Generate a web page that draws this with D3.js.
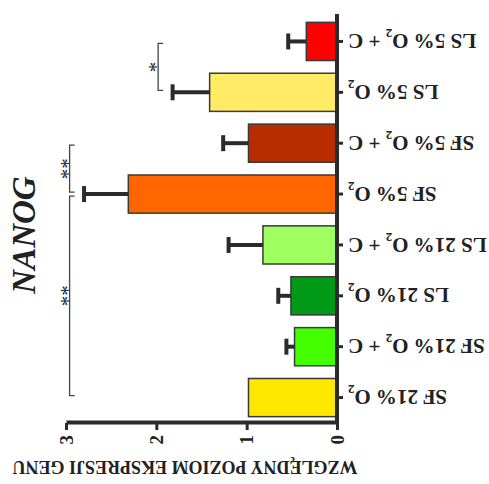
<!DOCTYPE html>
<html>
<head>
<meta charset="utf-8">
<script src="https://cdn.jsdelivr.net/npm/d3@7"></script>
<style>
  body { margin: 0; background: #fff; }
  text { font-family: "Liberation Serif", "Times New Roman", serif; }
</style>
</head>
<body>
<div id="chart"></div>
<script>
// chart data
var categories = ["SF 21% O2", "SF 21% O2 + C", "LS 21% O2", "LS 21% O2 + C",
                  "SF 5% O2", "SF 5% O2 + C", "LS 5% O2", "LS 5% O2 + C"];
var values = [0.98, 0.47, 0.51, 0.82, 2.31, 0.98, 1.41, 0.34];
var errors = [0, 0.09, 0.14, 0.38, 0.49, 0.28, 0.41, 0.20];
var colors = ["#ffe800", "#44ff00", "#009a17", "#a0ff60",
              "#ff6600", "#b82c00", "#ffeb66", "#ff0000"];
var valueTicks = [0, 1, 2, 3];
var significance = [
    { a: "SF 5% O2 + C", b: "SF 5% O2", label: "**" },
    { a: "SF 21% O2", b: "SF 5% O2", label: "**" },
    { a: "LS 5% O2", b: "LS 5% O2 + C", label: "*" }
];
var title = "NANOG";
var axisTitle = "WZGLĘDNY POZIOM EKSPRESJI GENU";

var width = 489, height = 484;
var axisColor = "#2b2b2b";

var svg = d3.select("#chart")
    .append("svg")
    .attr("width", width)
    .attr("height", height);

// the figure is a vertical bar chart turned 90 degrees counter-clockwise
var g = svg.append("g")
    .attr("transform", "translate(0," + height + ") rotate(-90)");

var x = d3.scaleBand()
    .domain(categories)
    .range([61, 468])
    .paddingInner(0.25)
    .paddingOuter(0.125);

var y = d3.scaleLinear()
    .domain([0, 3])
    .range([337, 66]);

// bars
g.selectAll("rect.bar")
    .data(categories)
    .enter()
    .append("rect")
    .attr("class", "bar")
    .attr("x", function (d) { return x(d); })
    .attr("y", function (d, i) { return y(values[i]); })
    .attr("width", x.bandwidth())
    .attr("height", function (d, i) { return y(0) - y(values[i]); })
    .attr("fill", function (d, i) { return colors[i]; })
    .attr("stroke", "#3a3a3a")
    .attr("stroke-width", 1.5);

// error bars (upper side only)
var err = g.selectAll("g.err")
    .data(categories.filter(function (d, i) { return errors[i] > 0; }))
    .enter()
    .append("g")
    .attr("class", "err");

err.append("line")
    .attr("x1", function (d) { return x(d) + x.bandwidth() / 2; })
    .attr("x2", function (d) { return x(d) + x.bandwidth() / 2; })
    .attr("y1", function (d) { return y(values[categories.indexOf(d)]); })
    .attr("y2", function (d) { var i = categories.indexOf(d); return y(values[i] + errors[i]); })
    .attr("stroke", axisColor)
    .attr("stroke-width", 4);

err.append("line")
    .attr("x1", function (d) { return x(d) + x.bandwidth() / 2 - 8; })
    .attr("x2", function (d) { return x(d) + x.bandwidth() / 2 + 8; })
    .attr("y1", function (d) { var i = categories.indexOf(d); return y(values[i] + errors[i]); })
    .attr("y2", function (d) { var i = categories.indexOf(d); return y(values[i] + errors[i]); })
    .attr("stroke", axisColor)
    .attr("stroke-width", 4);

// value axis
var yAxis = g.append("g")
    .attr("transform", "translate(61,0)")
    .call(d3.axisLeft(y).tickValues(valueTicks).tickSize(7).tickSizeOuter(0).tickFormat(d3.format("d")));

yAxis.select(".domain").attr("stroke", axisColor).attr("stroke-width", 4);
yAxis.selectAll(".tick line").attr("stroke", axisColor).attr("stroke-width", 3);
yAxis.selectAll(".tick text")
    .attr("x", -12)
    .attr("fill", "#222")
    .style("font-size", "19px")
    .style("font-weight", "bold")
    .style("font-family", "Liberation Serif, serif");

// category axis
var xAxis = g.append("g")
    .attr("transform", "translate(0,337)")
    .call(d3.axisBottom(x).tickSize(6).tickSizeOuter(0).tickFormat(""));

xAxis.select(".domain").attr("stroke", axisColor).attr("stroke-width", 4)
    .attr("d", "M61,0H470");
xAxis.selectAll(".tick line").attr("stroke", axisColor).attr("stroke-width", 3);

// category labels with subscript O2
var labels = g.selectAll("text.cat")
    .data(categories)
    .enter()
    .append("text")
    .attr("class", "cat")
    .attr("transform", function (d) {
        return "translate(" + (x(d) + x.bandwidth() / 2) + ",348) rotate(-90)";
    })
    .attr("text-anchor", "end")
    .attr("dy", "0.35em")
    .attr("fill", "#222")
    .style("font-size", "21px")
    .style("font-weight", "bold");

labels.each(function (d) {
    var t = d3.select(this);
    var parts = d.split("O2");
    t.append("tspan").text(parts[0] + "O");
    t.append("tspan").text("2").attr("dy", 5).style("font-size", "13px");
    if (parts[1]) t.append("tspan").text(parts[1]).attr("dy", -5);
});

// significance brackets
significance.forEach(function (s) {
    var ia = categories.indexOf(s.a), ib = categories.indexOf(s.b);
    var top = Math.max(values[ia] + errors[ia], values[ib] + errors[ib]) + 0.16;
    var xa = x(s.a) + x.bandwidth() / 2, xb = x(s.b) + x.bandwidth() / 2;
    var x1 = Math.min(xa, xb) + 2, x2 = Math.max(xa, xb) - 2;
    var ly = y(top);
    g.append("path")
        .attr("d", "M" + x1 + "," + (ly + 5) + "V" + ly + "H" + x2 + "V" + (ly + 5))
        .attr("fill", "none")
        .attr("stroke", "#444")
        .attr("stroke-width", 1.3);
    g.append("text")
        .attr("x", (x1 + x2) / 2)
        .attr("y", ly + 5)
        .attr("text-anchor", "middle")
        .attr("fill", "#222")
        .style("font-size", "21px")
        .text(s.label);
});

// title
g.append("text")
    .attr("x", 249)
    .attr("y", 35)
    .attr("text-anchor", "middle")
    .attr("fill", "#222")
    .style("font-size", "33px")
    .style("font-weight", "bold")
    .style("font-style", "italic")
    .text(title);

// value axis title
g.append("text")
    .attr("transform", "translate(17,185) rotate(-90)")
    .attr("text-anchor", "middle")
    .attr("dy", "0.35em")
    .attr("fill", "#222")
    .style("font-size", "18px")
    .style("font-weight", "bold")
    .text(axisTitle);
</script>
</body>
</html>
